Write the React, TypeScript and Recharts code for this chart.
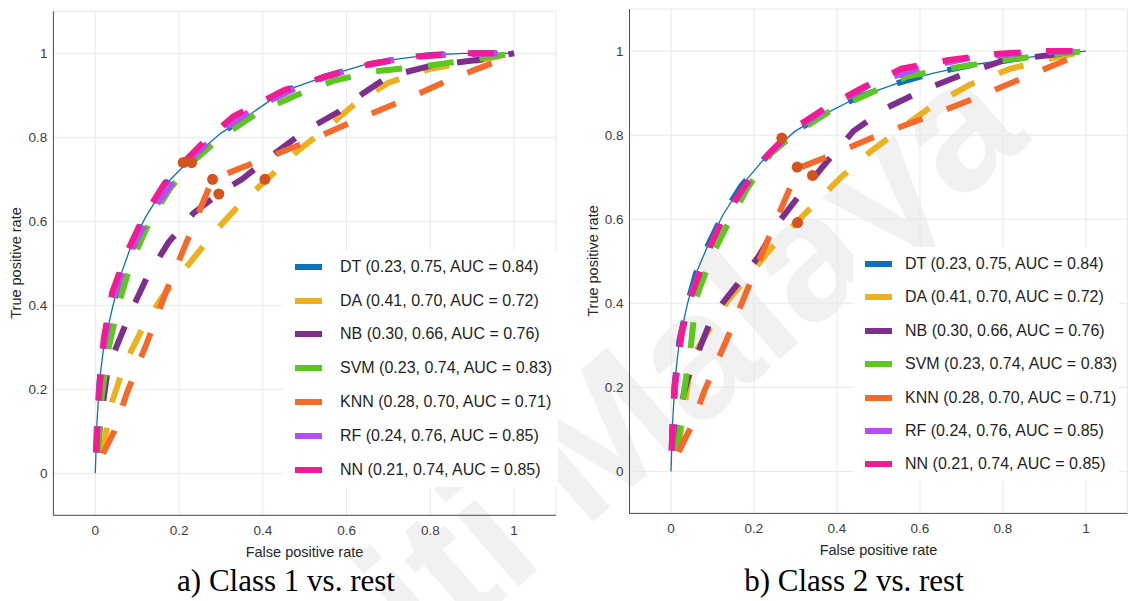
import React from "react";
import {
  ComposedChart,
  Line,
  Scatter,
  XAxis,
  YAxis,
  CartesianGrid,
  Legend,
} from "recharts";

type Pair = [number, number];

const TICKS = [0, 0.2, 0.4, 0.6, 0.8, 1];
const MODELS = ["DT", "DA", "NB", "SVM", "KNN", "RF", "NN"];
const LEGEND_LABELS = [
  "DT (0.23, 0.75, AUC = 0.84)",
  "DA (0.41, 0.70, AUC = 0.72)",
  "NB (0.30, 0.66, AUC = 0.76)",
  "SVM (0.23, 0.74, AUC = 0.83)",
  "KNN (0.28, 0.70, AUC = 0.71)",
  "RF (0.24, 0.76, AUC = 0.85)",
  "NN (0.21, 0.74, AUC = 0.85)",
];
const COLORS = ["#0B72BA", "#EDB120", "#7E2F8E", "#5CC71F", "#F56A2A", "#B64DF7", "#F21B93"];
const CAPTIONS = ["a) Class 1 vs. rest", "b) Class 2 vs. rest"];

// class 1 vs rest: [fpr, tpr]
const class1DT: Pair[] = [[0, 0], [0.004, 0.12], [0.01, 0.22], [0.02, 0.3], [0.04, 0.39], [0.06, 0.47], [0.085, 0.54], [0.12, 0.61], [0.17, 0.69], [0.23, 0.75], [0.3, 0.81], [0.37, 0.855], [0.45, 0.91], [0.55, 0.945], [0.64, 0.972], [0.72, 0.986], [0.8, 0.996], [0.88, 1], [1, 1]];
const class1DA: Pair[] = [[0, 0], [0.02, 0.07], [0.04, 0.17], [0.07, 0.26], [0.115, 0.35], [0.16, 0.42], [0.225, 0.5], [0.285, 0.575], [0.345, 0.64], [0.41, 0.7], [0.48, 0.765], [0.55, 0.82], [0.62, 0.88], [0.7, 0.93], [0.8, 0.963], [0.9, 0.98], [1, 1]];
const class1NB: Pair[] = [[0, 0], [0.012, 0.12], [0.03, 0.25], [0.05, 0.3], [0.085, 0.385], [0.125, 0.47], [0.175, 0.55], [0.235, 0.62], [0.3, 0.67], [0.35, 0.7], [0.42, 0.755], [0.5, 0.815], [0.58, 0.86], [0.64, 0.905], [0.7, 0.945], [0.8, 0.97], [0.92, 0.985], [1, 1]];
const class1SVM: Pair[] = [[0, 0], [0.01, 0.1], [0.015, 0.18], [0.03, 0.29], [0.055, 0.4], [0.085, 0.5], [0.13, 0.6], [0.18, 0.68], [0.23, 0.74], [0.3, 0.8], [0.39, 0.86], [0.48, 0.9], [0.57, 0.935], [0.67, 0.957], [0.79, 0.97], [0.9, 0.985], [1, 1]];
const class1KNN: Pair[] = [[0, 0], [0.015, 0.04], [0.045, 0.1], [0.075, 0.19], [0.125, 0.315], [0.17, 0.435], [0.22, 0.555], [0.255, 0.64], [0.28, 0.7], [0.35, 0.728], [0.42, 0.755], [0.5, 0.787], [0.62, 0.84], [0.74, 0.89], [0.86, 0.943], [0.97, 0.985], [1, 1]];
const class1RF: Pair[] = [[0, 0], [0.005, 0.11], [0.01, 0.21], [0.025, 0.33], [0.045, 0.42], [0.065, 0.48], [0.1, 0.56], [0.14, 0.63], [0.19, 0.7], [0.24, 0.76], [0.3, 0.815], [0.38, 0.87], [0.5, 0.927], [0.62, 0.965], [0.73, 0.988], [0.86, 0.998], [1, 1]];
const class1NN: Pair[] = [[0, 0], [0.005, 0.1], [0.01, 0.2], [0.02, 0.32], [0.04, 0.43], [0.075, 0.525], [0.115, 0.61], [0.165, 0.69], [0.21, 0.74], [0.26, 0.79], [0.33, 0.85], [0.45, 0.912], [0.55, 0.945], [0.66, 0.975], [0.77, 0.993], [0.88, 1], [1, 1]];
const class1Points: Pair[] = [[0.21, 0.74], [0.23, 0.74], [0.28, 0.7], [0.295, 0.665], [0.405, 0.7]];

// class 2 vs rest
const class2DT: Pair[] = [[0, 0], [0.004, 0.12], [0.01, 0.22], [0.02, 0.31], [0.04, 0.4], [0.06, 0.47], [0.09, 0.54], [0.125, 0.61], [0.17, 0.68], [0.23, 0.75], [0.3, 0.81], [0.37, 0.85], [0.45, 0.89], [0.55, 0.925], [0.63, 0.947], [0.73, 0.968], [0.86, 0.985], [1, 1]];
const class2DA: Pair[] = [[0, 0], [0.02, 0.07], [0.035, 0.17], [0.05, 0.27], [0.1, 0.35], [0.14, 0.41], [0.2, 0.48], [0.24, 0.53], [0.3, 0.59], [0.35, 0.64], [0.41, 0.7], [0.48, 0.76], [0.56, 0.82], [0.635, 0.873], [0.72, 0.92], [0.815, 0.957], [0.92, 0.983], [1, 1]];
const class2NB: Pair[] = [[0, 0], [0.015, 0.12], [0.04, 0.22], [0.06, 0.27], [0.1, 0.37], [0.16, 0.445], [0.21, 0.51], [0.265, 0.6], [0.32, 0.67], [0.37, 0.73], [0.44, 0.81], [0.52, 0.865], [0.61, 0.908], [0.7, 0.943], [0.8, 0.977], [0.91, 0.99], [1, 1]];
const class2SVM: Pair[] = [[0, 0], [0.018, 0.07], [0.03, 0.18], [0.048, 0.3], [0.06, 0.41], [0.095, 0.505], [0.14, 0.595], [0.185, 0.675], [0.24, 0.755], [0.3, 0.805], [0.38, 0.855], [0.48, 0.9], [0.57, 0.94], [0.68, 0.96], [0.79, 0.977], [0.9, 0.99], [1, 1]];
const class2KNN: Pair[] = [[0, 0], [0.015, 0.04], [0.048, 0.105], [0.082, 0.195], [0.135, 0.315], [0.185, 0.435], [0.235, 0.555], [0.285, 0.67], [0.304, 0.72], [0.38, 0.75], [0.5, 0.8], [0.625, 0.846], [0.75, 0.895], [0.87, 0.945], [0.98, 0.99], [1, 1]];
const class2RF: Pair[] = [[0, 0], [0.005, 0.1], [0.01, 0.2], [0.025, 0.32], [0.045, 0.41], [0.08, 0.505], [0.12, 0.59], [0.17, 0.665], [0.23, 0.75], [0.3, 0.815], [0.38, 0.865], [0.48, 0.92], [0.6, 0.96], [0.73, 0.985], [0.86, 0.997], [1, 1]];
const class2NN: Pair[] = [[0, 0], [0.003, 0.1], [0.008, 0.2], [0.025, 0.33], [0.05, 0.42], [0.085, 0.515], [0.125, 0.6], [0.175, 0.675], [0.235, 0.755], [0.295, 0.815], [0.38, 0.87], [0.46, 0.912], [0.555, 0.958], [0.665, 0.978], [0.78, 0.993], [0.9, 1], [1, 1]];
const class2Points: Pair[] = [[0.267, 0.793], [0.304, 0.724], [0.341, 0.704], [0.305, 0.592]];

const SANS = '"Liberation Sans", Arial, Helvetica, sans-serif';
const SERIF = '"Liberation Serif", "Times New Roman", serif';
const CHART_HEIGHT = 560;

const toRows = (pairs: Pair[]) => pairs.map(([fpr, tpr]) => ({ fpr, tpr }));

const panels = [
  {
    curves: [class1DT, class1DA, class1NB, class1SVM, class1KNN, class1RF, class1NN],
    points: class1Points,
    left: 0,
    width: 570,
    margin: { top: 11.3, right: 14, bottom: 0, left: 13.4 },
    xAxisHeight: 44.7,
    legend: { left: 283, top: 250, width: 275, row: 33.8, gap: 18 },
    xTitle: { x: 304.5, y: 552 },
    yTitle: { x: 16, y: 263 },
    caption: 286,
  },
  {
    curves: [class2DT, class2DA, class2NB, class2SVM, class2KNN, class2RF, class2NN],
    points: class2Points,
    left: 576,
    width: 560,
    margin: { top: 9, right: 8.5, bottom: 0, left: 13.5 },
    xAxisHeight: 46.6,
    legend: { left: 277, top: 247.3, width: 266, row: 33.4, gap: 13 },
    xTitle: { x: 878.5, y: 550 },
    yTitle: { x: 593, y: 261 },
    caption: 854,
  },
];

function LegendBox({ width, row, gap }: { width: number; row: number; gap: number }) {
  return (
    <div style={{ background: "#fff", width, fontFamily: SANS, fontSize: 16, color: "#1f1f1f" }}>
      {LEGEND_LABELS.map((label, i) => (
        <div key={label} style={{ height: row, display: "flex", alignItems: "center" }}>
          <span
            style={{
              display: "inline-block",
              width: 27,
              height: 6,
              marginLeft: 12,
              marginRight: gap,
              background: COLORS[i],
            }}
          />
          <span style={{ whiteSpace: "nowrap" }}>{label}</span>
        </div>
      ))}
    </div>
  );
}

const tickStyle = { fontSize: 13.5, fill: "#3d3d3d", fontFamily: SANS };

function RocPanel({ panel }: { panel: (typeof panels)[number] }) {
  const lg = panel.legend;
  return (
    <div style={{ position: "absolute", left: panel.left, top: 0 }}>
      <ComposedChart width={panel.width} height={CHART_HEIGHT} margin={panel.margin}>
        <CartesianGrid stroke="#e8e8e8" />
        <XAxis
          type="number"
          dataKey="fpr"
          domain={[-0.1, 1.1]}
          ticks={TICKS}
          allowDataOverflow
          height={panel.xAxisHeight}
          axisLine={{ stroke: "#4d4d4d" }}
          tickLine={false}
          tickSize={6}
          tickMargin={4}
          tick={tickStyle}
        />
        <YAxis
          type="number"
          dataKey="tpr"
          domain={[-0.1, 1.1]}
          ticks={TICKS}
          allowDataOverflow
          width={40}
          axisLine={{ stroke: "#4d4d4d" }}
          tickLine={false}
          tickSize={6}
          tickMargin={0}
          tick={tickStyle}
        />
        {panel.curves.map((curve, i) => [
          <Line
            key={MODELS[i]}
            data={toRows(curve)}
            dataKey="tpr"
            name={MODELS[i]}
            stroke={COLORS[i]}
            strokeWidth={6}
            strokeDasharray="26 26"
            strokeDashoffset={31}
            strokeLinecap="butt"
            dot={false}
            isAnimationActive={false}
          />,
          // DT also gets a thin solid trace under the dashed curves
          i === 0 ? (
            <Line
              key="DT-thin"
              data={toRows(curve)}
              dataKey="tpr"
              stroke={COLORS[0]}
              strokeWidth={1.3}
              dot={false}
              legendType="none"
              isAnimationActive={false}
            />
          ) : null,
        ])}
        <Scatter
          data={toRows(panel.points)}
          dataKey="tpr"
          fill="#D4531E"
          isAnimationActive={false}
          shape={(p: any) => <circle cx={p.cx} cy={p.cy} r={5.5} fill="#D4531E" />}
        />
        <Legend
          layout="vertical"
          align="center"
          verticalAlign="middle"
          wrapperStyle={{ left: lg.left, top: lg.top, width: lg.width }}
          content={() => <LegendBox width={lg.width} row={lg.row} gap={lg.gap} />}
        />
      </ComposedChart>
    </div>
  );
}

const titleStyle: React.CSSProperties = {
  position: "absolute",
  width: 200,
  height: 16,
  lineHeight: "16px",
  textAlign: "center",
  fontFamily: SANS,
  fontSize: 14.5,
  color: "#262626",
  whiteSpace: "nowrap",
};

export default function App() {
  return (
    <div
      style={{
        position: "absolute",
        left: 0,
        top: 0,
        width: 1136,
        height: 601,
        background: "#fff",
        overflow: "hidden",
      }}
    >
      {/* watermark, drawn beneath both panels */}
      <svg width={1136} height={601} style={{ position: "absolute", left: 0, top: 0 }}>
        <text
          x={1032}
          y={140}
          transform="rotate(-41 1032 140)"
          textAnchor="end"
          fontFamily={SANS}
          fontWeight="bold"
          fontSize={178}
          fill="#f1f1f1"
        >
          Universiti Malaya
        </text>
      </svg>
      {panels.map((panel, i) => (
        <React.Fragment key={CAPTIONS[i]}>
          <RocPanel panel={panel} />
          <div style={{ ...titleStyle, left: panel.xTitle.x - 100, top: panel.xTitle.y - 8 }}>
            False positive rate
          </div>
          <div
            style={{
              ...titleStyle,
              left: panel.yTitle.x - 100,
              top: panel.yTitle.y - 8,
              transform: "rotate(-90deg)",
            }}
          >
            True positive rate
          </div>
          <div
            style={{
              position: "absolute",
              left: panel.caption - 200,
              width: 400,
              top: 565,
              lineHeight: "31px",
              textAlign: "center",
              fontFamily: SERIF,
              fontSize: 31,
              color: "#000",
            }}
          >
            {CAPTIONS[i]}
          </div>
        </React.Fragment>
      ))}
    </div>
  );
}
